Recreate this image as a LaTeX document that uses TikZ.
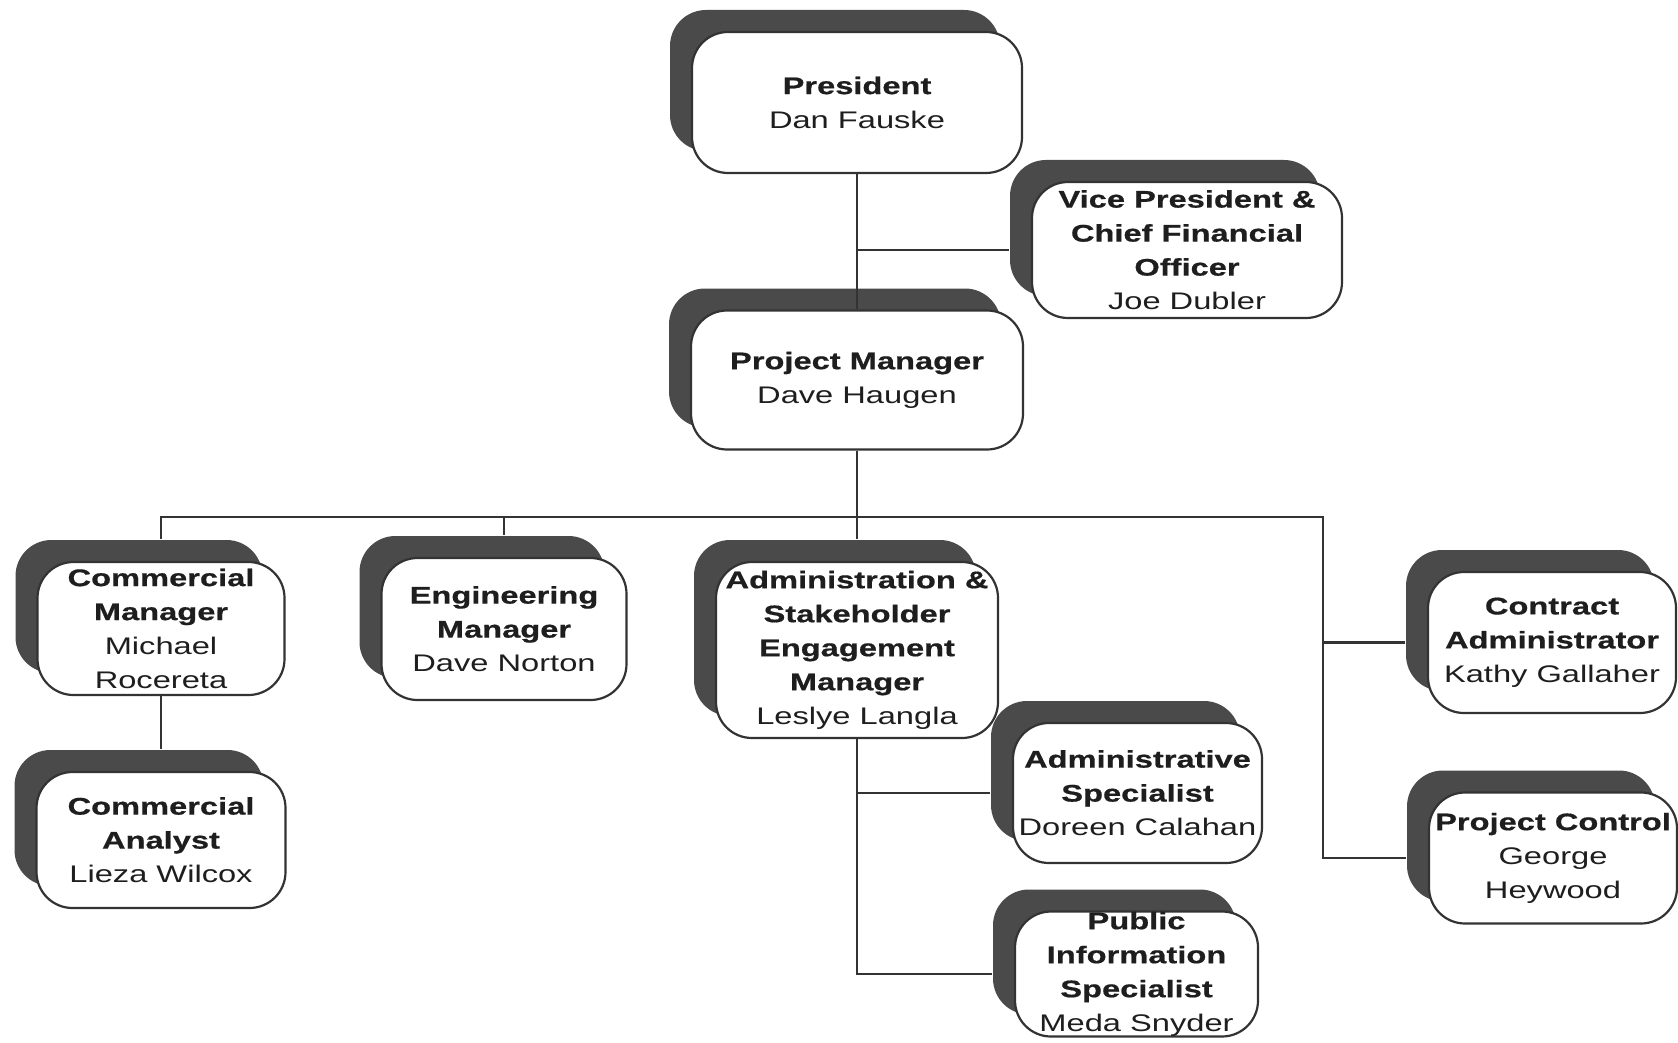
\documentclass[tikz,border=0pt]{standalone}
\usepackage{fontspec}
\setmainfont[FakeStretch=1.36,BoldFeatures={FakeBold=0.6}]{Liberation Sans}
\usetikzlibrary{shadows}
\definecolor{shd}{HTML}{4A4A4A}
\definecolor{ln}{HTML}{333333}
\definecolor{txt}{HTML}{1E1E1E}
\begin{document}
\begin{tikzpicture}[x=1pt,y=-1pt,
  orgbox/.style={draw=ln, line width=2.2pt, fill=white, rounded corners=36pt,
    inner sep=0pt, align=center, text=txt, font=\fontsize{24}{34}\selectfont,
    general shadow={fill=shd, shadow xshift=-22pt, shadow yshift=22pt}},
  conn/.style={draw=ln, line width=2.5pt}]
\fill[white] (0,0) rectangle (1678,1043);
\useasboundingbox (0,0) rectangle (1678,1043);

% nodes
\node[orgbox, minimum width=310pt, minimum height=136pt] (vp) at (1187,250)
  {\textbf{Vice President \&}\\\textbf{Chief Financial}\\\textbf{Officer}\\Joe Dubler};
\node[orgbox, minimum width=330pt, minimum height=141pt] (pres) at (857,102.5)
  {\textbf{President}\\Dan Fauske};
\node[orgbox, minimum width=332pt, minimum height=139pt] (pm) at (857,380)
  {\textbf{Project Manager}\\Dave Haugen};
\node[orgbox, minimum width=247pt, minimum height=133pt] (cm) at (161,628.5)
  {\textbf{Commercial}\\\textbf{Manager}\\Michael\\Rocereta};
\node[orgbox, minimum width=245pt, minimum height=142pt] (em) at (504,629)
  {\textbf{Engineering}\\\textbf{Manager}\\Dave Norton};
\node[orgbox, minimum width=282pt, minimum height=176pt] (adm) at (857,650)
  {\textbf{Administration \&}\\\textbf{Stakeholder}\\\textbf{Engagement}\\\textbf{Manager}\\Leslye Langla};
\node[orgbox, minimum width=248pt, minimum height=141pt] (ca) at (1552,642.5)
  {\textbf{Contract}\\\textbf{Administrator}\\Kathy Gallaher};
\node[orgbox, minimum width=249pt, minimum height=136pt] (can) at (161,840)
  {\textbf{Commercial}\\\textbf{Analyst}\\Lieza Wilcox};
\node[orgbox, minimum width=249pt, minimum height=140pt] (as) at (1137.5,793)
  {\textbf{Administrative}\\\textbf{Specialist}\\Doreen Calahan};
\node[orgbox, minimum width=243pt, minimum height=125pt] (pis) at (1136.5,974)
  {\textbf{Public}\\\textbf{Information}\\\textbf{Specialist}\\Meda Snyder};
\node[orgbox, minimum width=248pt, minimum height=131pt] (pc) at (1553,858)
  {\textbf{Project Control}\\George\\Heywood};

\coordinate (busR) at (1323,517);

% connectors
\draw[conn] (pres.south) -- (pm.north);
\draw[conn] ([xshift=-22pt]vp.west) -- (vp.west -| pres.south);
\draw[conn] (pm.south) -- ([yshift=22pt]adm.north);
\draw[conn] ([yshift=22pt]cm.north) |- (busR) |- ([xshift=-22pt]pc.west);
\draw[conn] ([yshift=22pt]em.north) -- (em.north |- busR);
\draw[conn] ([xshift=-22pt]ca.west) -- (ca.west -| busR);
\draw[conn] (cm.south) -- ([yshift=22pt]can.north);
\draw[conn] (adm.south) |- ([xshift=-22pt]pis.west);
\draw[conn] ([xshift=-22pt]as.west) -- (as.west -| adm.south);
\end{tikzpicture}
\end{document}
